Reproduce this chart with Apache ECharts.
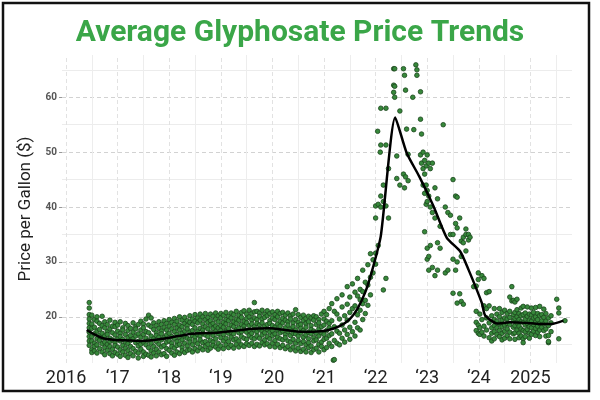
<!DOCTYPE html>
<html><head><meta charset="utf-8">
<script src="https://cdn.jsdelivr.net/npm/echarts@6/dist/echarts.min.js"></script>
<style>html,body{margin:0;padding:0;background:#fff}#c{width:600px;height:400px}</style>
</head><body><div id="c"></div>
<script>
const titleText = 'Average Glyphosate Price Trends';
const yAxisTitle = 'Price per Gallon ($)';
const xTickYears = [2016, 2017, 2018, 2019, 2020, 2021, 2022, 2023, 2024, 2025];
const xTickLabels = ['2016', '\u201817', '\u201818', '\u201819', '\u201820', '\u201821', '\u201822', '\u201823', '\u201824', '2025'];
const yTickValues = [20, 30, 40, 50, 60];
const gridYValues = [15, 20, 25, 30, 35, 40, 45, 50, 55, 60, 65];
const gridXValues = [2016, 2016.5, 2017, 2017.5, 2018, 2018.5, 2019, 2019.5, 2020, 2020.5, 2021, 2021.5, 2022, 2022.5, 2023, 2023.5, 2024, 2024.5, 2025, 2025.5];

// smoothed trend line
const trendYears = [2016.40, 2016.55, 2016.72, 2016.95, 2017.2, 2017.45, 2017.7, 2018.0, 2018.35, 2018.6, 2018.9, 2019.2, 2019.55, 2019.95, 2020.25, 2020.55, 2020.8, 2021.05, 2021.3, 2021.5, 2021.65, 2021.8, 2021.92, 2022.1, 2022.38, 2022.6, 2022.85, 2023.12, 2023.38, 2023.64, 2023.8, 2024.06, 2024.12, 2024.35, 2024.6, 2024.9, 2025.19, 2025.41, 2025.64];
const trendValues = [17.6, 16.8, 16.1, 15.8, 15.7, 15.6, 15.8, 16.2, 16.8, 17.0, 17.1, 17.4, 17.8, 17.9, 17.6, 17.3, 17.3, 17.5, 18.3, 19.6, 21.5, 24.5, 28.0, 34.7, 56.3, 49.9, 45.5, 40.2, 34.4, 31.9, 28.6, 22.5, 20.3, 18.8, 19.0, 18.9, 18.7, 18.7, 19.3];

// observation dates (decimal years) and the prices observed on each date
const obsDates = [
2016.45,2016.50,2016.55,2016.60,2016.65,2016.70,2016.75,2016.80,2016.85,2016.90,2016.95,
2017.00,2017.05,2017.10,2017.15,2017.20,2017.25,2017.30,2017.35,2017.40,2017.45,2017.50,2017.55,2017.60,2017.65,2017.70,2017.75,2017.80,2017.85,2017.90,2017.95,
2018.00,2018.05,2018.10,2018.15,2018.20,2018.25,2018.30,2018.35,2018.40,2018.45,2018.50,2018.55,2018.60,2018.65,2018.70,2018.75,2018.80,2018.85,2018.90,2018.95,
2019.00,2019.05,2019.10,2019.15,2019.20,2019.25,2019.30,2019.35,2019.40,2019.45,2019.50,2019.55,2019.60,2019.65,2019.70,2019.75,2019.80,2019.85,2019.90,2019.95,
2020.00,2020.05,2020.10,2020.15,2020.20,2020.25,2020.30,2020.35,2020.40,2020.45,2020.50,2020.55,2020.60,2020.65,2020.70,2020.75,2020.80,2020.85,2020.90,2020.95,
2021.00,2021.05,2021.10,2021.15,2021.18,2021.20,2021.25,2021.30,2021.35,2021.40,2021.45,2021.50,2021.55,2021.60,2021.65,2021.70,2021.75,2021.80,2021.85,2021.90,2021.95,
2022.00,2022.04,2022.05,2022.09,2022.10,2022.15,2022.20,2022.25,2022.35,2022.37,2022.41,2022.47,2022.54,2022.56,2022.58,2022.60,2022.63,2022.72,2022.74,2022.78,2022.80,2022.87,2022.89,2022.92,2022.95,2022.98,
2023.00,2023.03,2023.06,2023.10,2023.15,2023.20,2023.25,2023.31,2023.35,2023.40,2023.45,2023.50,2023.55,2023.58,2023.63,2023.66,2023.70,2023.75,2023.80,2023.83,2023.90,2023.95,2023.99,
2024.02,2024.06,2024.10,2024.15,2024.20,2024.25,2024.30,2024.35,2024.40,2024.45,2024.50,2024.55,2024.60,2024.64,2024.67,2024.70,2024.74,2024.78,2024.82,2024.86,2024.90,2024.94,2024.98,
2025.02,2025.06,2025.10,2025.14,2025.18,2025.22,2025.26,2025.30,2025.35,2025.40,2025.51,2025.55,2025.67
];
const obsPrices = [
[22.6,21.6,20.4,19.6,18.8,18.0,17.2,16.4,15.6,14.8],
[20.3,18.7,17.9,16.4,15.6,14.0,13.5],
[19.5,18.1,16.9,15.2,14.6,13.8],
[20.0,19.2,17.4,16.0,14.9,13.4],
[18.8,17.7,16.6,15.7,14.2],
[20.1,18.4,17.0,16.2,15.1,13.6],
[19.1,18.0,16.5,15.4,14.4,13.1],
[18.6,17.3,16.8,15.0,13.9],
[19.4,17.8,16.1,15.5,14.6,13.3],
[18.3,17.1,15.8,14.1,12.9],
[19.0,18.2,16.7,15.3,14.8,13.5],
[18.5,17.4,16.0,14.5,13.2],
[19.1,17.0,16.4,15.6,14.0,12.8],
[18.0,17.6,15.9,14.8,13.6],
[18.8,16.8,15.4,14.3,13.0],
[18.4,17.5,16.2,15.1,13.8,12.6],
[17.9,16.6,15.7,14.6,13.3],
[18.9,17.2,16.0,14.2,12.9],
[18.2,17.8,16.5,15.3,13.7],
[18.6,16.9,15.5,14.7,13.4,12.5],
[19.2,17.6,16.3,15.0,14.1],
[18.7,18.0,16.8,15.4,13.6,12.8],
[19.6,17.3,16.1,14.9,13.2],
[20.3,18.5,17.1,15.7,14.4,13.0],
[19.8,18.2,16.5,15.2,13.8,12.7],
[18.9,17.7,16.0,14.6,13.4],
[18.4,17.1,16.6,15.5,14.1,12.9],
[19.1,17.9,16.3,15.0,13.6],
[18.6,17.4,16.9,15.8,14.5,13.1],
[19.3,18.1,16.2,14.8,13.3],
[18.8,17.6,16.7,15.4,14.2,12.8],
[19.5,18.3,17.0,15.6,13.9],
[19.0,17.8,16.4,15.2,14.6,13.4],
[19.7,18.6,17.3,16.0,14.3,13.0],
[19.2,18.0,16.8,15.5,14.8,13.6],
[20.0,18.5,17.6,16.2,15.0,13.3],
[19.4,18.2,17.0,15.8,14.4,13.8],
[19.9,18.8,17.4,16.5,15.2,13.5],
[19.3,18.4,17.8,16.1,14.7,13.9],
[20.2,19.0,17.2,15.9,15.4,14.0],
[19.6,18.6,17.5,16.6,14.9,13.6],
[20.4,19.2,18.0,16.3,15.6,14.2],
[19.8,18.9,17.3,16.8,15.1,13.8],
[20.5,19.4,17.9,16.5,15.8,14.4],
[20.0,18.7,17.6,17.0,15.3,14.0],
[20.6,19.5,18.2,16.7,15.5,14.6],
[19.9,19.0,17.8,16.4,15.0,13.9],
[20.5,19.3,18.5,17.1,15.7,14.3],
[20.1,18.8,17.9,16.6,15.4,14.8],
[20.7,19.6,18.3,17.3,16.0,14.5],
[20.2,19.1,18.0,16.9,15.2,14.1],
[20.6,19.8,18.4,17.5,16.2,14.7],
[20.3,19.0,18.1,16.8,15.6,14.2],
[20.8,19.5,18.7,17.4,16.1,14.9],
[20.1,19.3,17.9,17.0,15.5,14.4],
[20.7,19.8,18.5,17.2,16.3,14.8],
[20.4,19.1,18.2,16.9,15.8,14.3],
[21.0,19.6,18.8,17.6,16.0,15.0],
[20.3,19.4,18.0,17.1,15.6,14.5],
[20.8,19.9,18.6,17.3,16.4,14.9],
[21.1,19.2,18.3,17.7,16.1,14.6],
[20.5,19.7,18.9,17.2,15.9,15.1],
[21.2,20.0,18.4,17.5,16.6,14.8],
[20.6,19.4,18.7,17.0,16.2,15.2],
[22.6,20.9,19.8,18.2,17.6,16.0,14.6],
[21.0,19.5,18.8,17.3,16.5,15.0],
[20.7,20.1,18.5,17.8,16.1,14.7],
[21.2,19.6,18.9,17.4,16.7,15.3],
[20.5,19.9,18.3,17.1,15.8,14.9],
[21.1,20.2,18.6,17.7,16.4,15.1],
[20.6,19.3,18.8,17.2,16.0,14.6],
[20.9,19.8,18.4,17.5,16.6,15.2],
[20.4,19.5,18.1,16.9,15.7,14.5],
[21.0,20.0,18.7,17.6,16.3,15.0],
[20.6,19.2,18.3,17.1,16.0,14.4],
[20.8,19.7,18.9,17.4,15.8,14.8],
[20.3,19.4,18.0,16.8,16.2,14.2],
[20.7,19.1,18.5,17.3,15.6,14.6],
[20.2,19.6,17.8,16.6,15.4,14.0],
[20.5,18.9,18.2,17.0,15.9,14.5],
[21.3,19.5,17.6,16.9,15.2,13.8],
[20.4,19.0,18.4,16.5,15.7,14.3],
[19.9,18.6,17.9,17.1,15.1,13.7],
[20.3,19.3,17.5,16.3,15.5,14.1],
[19.7,18.8,18.1,16.7,14.9,13.6],
[20.1,19.1,17.2,16.0,15.3,14.4],
[19.8,18.4,17.7,16.9,14.7,13.5],
[20.2,19.4,17.4,16.2,15.6,14.0],
[20.0,18.6,17.0,15.8,14.3],
[19.5,18.9,17.8,16.5,15.0,13.6],
[20.5,18.2,17.1,15.4,14.6],
[21.0,19.6,18.5,16.8,15.9,14.0],
[20.4,19.2,17.5,16.1,14.4],
[21.5,18.8,18.0,16.6,15.2],
[22.4,19.3,16.9,14.6],
[12.1],
[21.0,18.2,15.7,12.2],
[23.3,20.5,17.4,15.2],
[19.6,17.0,14.9],
[24.0,21.8,18.5,16.1],
[20.2,17.6,15.4],
[25.5,22.3,19.4,16.8],
[23.6,20.8,18.1,15.9],
[26.0,21.5,17.3],
[24.5,22.0,19.0,16.5],
[27.0,23.8,20.4,18.0],
[25.0,23.1,21.2,17.6],
[28.5,24.6,22.4,19.5],
[26.3,23.0,20.6],
[29.5,25.8,22.1],
[31.5,27.2,24.0],
[30.4,28.0],
[40.2,38.0,31.6,29.6],
[53.8],
[40.5,33.0],
[50.0],
[58.0,51.3,42.0,40.0],
[44.0,41.0,24.9],
[58.0,51.3,40.2,27.0],
[47.0,38.0],
[65.2,62.2,60.9],
[65.2,62.0,60.0],
[49.3,45.2],
[57.5,44.0],
[65.2,46.0],
[64.0,43.5],
[61.3,45.5],
[54.2],
[49.6,44.8],
[60.0],
[54.1],
[65.9],
[65.0,64.0],
[61.0,56.0,49.5],
[53.3,48.0],
[50.0,47.0,44.0],
[48.5,46.0,42.5,35.5],
[47.5,44.0,40.5],
[49.5,43.0,41.0,32.5,30.5],
[48.0,42.0,31.0,28.5],
[47.0,40.0,33.0],
[48.0,39.0,29.0],
[43.5,38.0,27.5],
[41.5,33.5,28.5],
[36.5,32.5],
[55.0],
[40.0,28.0],
[39.0,28.5],
[38.5,35.0],
[45.0,35.0,30.5,24.3],
[42.0,37.0,28.5],
[41.8,36.2,30.0,22.5],
[38.0,24.2],
[33.8,31.0,22.8],
[34.5,33.5,22.3],
[36.0,35.0,32.0],
[35.0,34.0],
[34.5],
[25.5],
[25.6,21.0,19.0,17.5],
[28.0,26.8,18.5,17.0],
[20.5,18.0,16.8],
[27.5,19.5,17.2],
[27.0,22.0,18.3,16.5],
[24.4,21.5,19.8,17.6],
[24.6,22.0,18.9,16.2],
[20.2,18.0,17.0,15.6],
[21.5,19.5,18.4,17.3,16.0],
[20.5,19.2,18.0,16.8],
[21.5,20.0,18.7,17.5,16.4],
[20.8,19.4,18.2,17.0,15.8],
[21.2,19.8,18.5,17.4,16.1],
[20.6,19.6,18.8,17.8,16.6],
[23.6,21.0,19.9,18.6,17.2,16.0],
[25.5,22.9],
[23.0,20.4,19.3,18.1,16.9],
[22.7,20.8,19.7,18.4,17.1,15.9],
[23.2,21.3,20.0,18.9,17.6],
[20.6,19.5,18.3,17.0,16.2],
[21.6,20.2,19.1,17.8,16.5],
[21.9,20.4,19.0,17.5,16.0,15.3],
[20.7,19.6,18.5,17.3,16.4],
[21.8,20.1,18.8,17.7],
[20.5,19.4,18.2,17.0,16.1],
[21.6,20.3,19.2,18.0,16.8],
[20.8,19.8,18.6,17.4],
[21.7,20.0,19.0,17.9,16.6],
[20.6,19.5,18.3,17.2],
[21.9,20.2,18.8,17.6,16.4],
[20.4,19.3,18.1],
[21.4,19.9,18.7,17.5],
[20.6,19.2,17.8,16.5],
[19.8,18.4,16.6,15.3,15.5],
[20.2,18.9,17.3],
[23.2],
[21.6,20.7,16.0],
[19.3]
];

const scatterData = [];
obsDates.forEach((d, i) => obsPrices[i].forEach(p => scatterData.push([d, p])));
const trendData = trendYears.map((y, i) => [y, trendValues[i]]);

const gridMarks = [];
gridYValues.forEach(v => gridMarks.push({
  yAxis: v,
  lineStyle: v % 10 === 0 ? { color: '#d2d2d2', type: [4, 3], width: 1 } : { color: '#ececec', type: 'solid', width: 1 }
}));
gridXValues.forEach(v => gridMarks.push({
  xAxis: v,
  lineStyle: v % 1 === 0 ? { color: '#e2e2e2', type: [4, 3], width: 1 } : { color: '#ededed', type: 'solid', width: 1 }
}));

const chart = echarts.init(document.getElementById('c'), null, { renderer: 'canvas' });
chart.setOption({
  animation: false,
  backgroundColor: '#ffffff',
  title: {
    text: titleText, left: 'center', top: 13,
    textStyle: { fontFamily: 'Roboto', fontWeight: 'bold', fontSize: 30, color: '#3aa648' }
  },
  graphic: [{
    type: 'rect', shape: { x: 3, y: 3, width: 586, height: 388 },
    style: { fill: 'none', stroke: '#111', lineWidth: 2.5 }, z: 100
  }],
  grid: { left: 62, right: 28, top: 55, bottom: 37 },
  xAxis: {
    type: 'value', min: 2015.922, max: 2025.806,
    axisLine: { show: false }, splitLine: { show: false },
    axisTick: { show: false },
    axisLabel: {
      customValues: xTickYears, margin: 6,
      fontFamily: 'Roboto', fontSize: 18, color: '#222',
      formatter: v => xTickLabels[xTickYears.indexOf(Math.round(v))]
    }
  },
  yAxis: {
    type: 'value', min: 11.59, max: 67.7,
    name: yAxisTitle, nameLocation: 'middle', nameGap: 26,
    nameTextStyle: { fontFamily: 'Roboto', fontSize: 17, color: '#222' },
    axisLine: { show: false }, splitLine: { show: false },
    axisTick: { show: true, customValues: yTickValues, length: 3, lineStyle: { color: '#999' } },
    axisLabel: { customValues: yTickValues, margin: 5, fontFamily: 'Roboto', fontSize: 10, fontWeight: 'bold', color: '#555' }
  },
  series: [
    {
      type: 'line', data: [], z: 0, silent: true,
      markLine: { silent: true, z: 0, symbol: 'none', label: { show: false }, animation: false, data: gridMarks }
    },
    {
      type: 'scatter', data: scatterData, z: 2, symbolSize: 4.6,
      itemStyle: { color: '#37883b', borderColor: '#1a451c', borderWidth: 0.8, opacity: 1 }
    },
    {
      type: 'line', data: trendData, z: 3, smooth: 0.2, showSymbol: false,
      lineStyle: { color: '#000', width: 2.5 }
    }
  ]
});
</script></body></html>
